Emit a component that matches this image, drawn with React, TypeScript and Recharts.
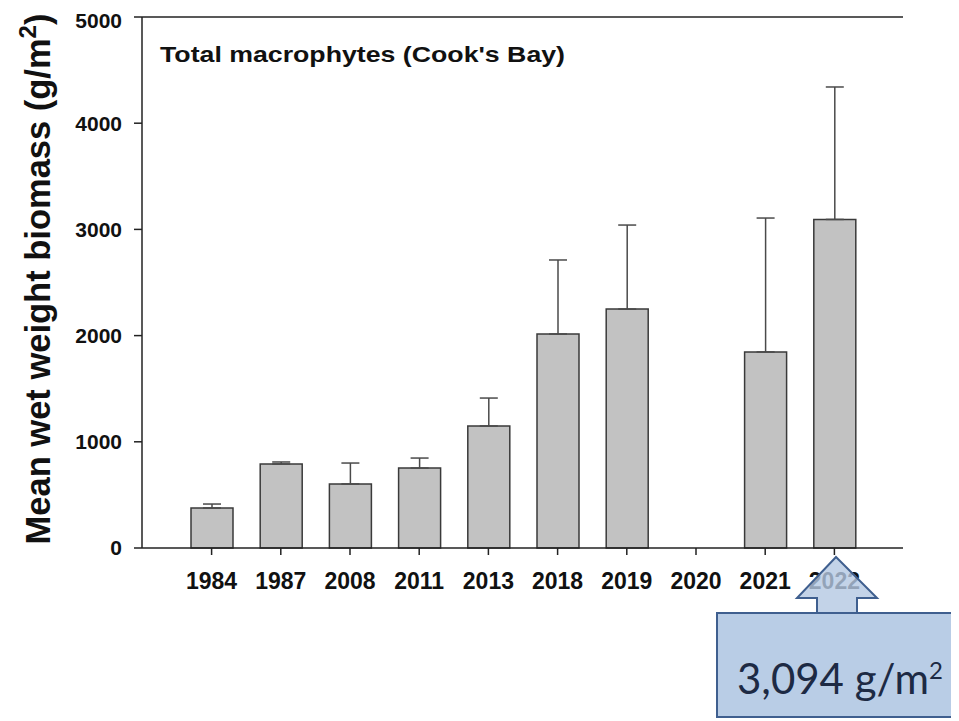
import React from "react";
import {
  BarChart,
  Bar,
  XAxis,
  YAxis,
  ErrorBar,
  ReferenceLine,
} from "recharts";

// Cook's Bay survey years and mean wet weight biomass (g/m2)
const years = ["1984", "1987", "2008", "2011", "2013", "2018", "2019", "2020", "2021", "2022"];
const biomass: (number | null)[] = [377, 791, 603, 753, 1149, 2015, 2250, null, 1846, 3094];
const errorUpper: (number | null)[] = [37, 19, 197, 94, 263, 697, 791, null, 1261, 1247];
const yTicks = [0, 1000, 2000, 3000, 4000, 5000];

const data = years.map((year, i) => ({
  year,
  biomass: biomass[i],
  err: errorUpper[i] == null ? undefined : [0, errorUpper[i] as number],
}));

const highlight = data[data.length - 1];
const highlightText = (highlight.biomass as number).toLocaleString("en-US");

const FONT = "'Liberation Sans', Arial, Helvetica, sans-serif";

const YLabel = () => (
  <text
    transform="translate(42,271) rotate(-90)"
    textAnchor="middle"
    fontFamily={FONT}
    fontWeight="bold"
    fontSize={34.5}
    fill="#111"
  >
    Mean wet weight biomass (g/m
    <tspan dy={-14} fontSize={24}>2</tspan>
    <tspan dy={14}>)</tspan>
  </text>
);

export default function App() {
  return (
    <div style={{ position: "relative", width: 951, height: 713 }}>
      <BarChart
        width={951}
        height={713}
        data={data}
        margin={{ top: 9, right: 56, bottom: 123, left: 0 }}
        barSize={42}
      >
        <XAxis
          dataKey="year"
          padding={{ left: 35, right: 34 }}
          axisLine={{ stroke: "#222", strokeWidth: 1.5 }}
          tickLine={{ stroke: "#222", strokeWidth: 1.5 }}
          tickSize={7}
          tickMargin={18}
          height={50}
          interval={0}
          tick={{ fontFamily: FONT, fontWeight: "bold", fontSize: 23, fill: "#111" }}
        />
        <YAxis
          domain={[0, 5000]}
          ticks={yTicks}
          width={134}
          axisLine={{ stroke: "#222", strokeWidth: 1.5 }}
          tickLine={{ stroke: "#222", strokeWidth: 1.5 }}
          tickSize={8}
          tickMargin={12}
          tick={{ fontFamily: FONT, fontWeight: "bold", fontSize: 21, fill: "#111" }}
          label={<YLabel />}
        />
        <YAxis
          yAxisId="frame"
          orientation="right"
          domain={[0, 5000]}
          width={0}
          tick={false}
          tickLine={false}
          axisLine={{ stroke: "#222", strokeWidth: 1.5 }}
        />
        <ReferenceLine y={5000} stroke="#222" strokeWidth={1.5} ifOverflow="visible" />
        <Bar
          dataKey="biomass"
          fill="#c2c2c2"
          stroke="#3a3a3a"
          strokeWidth={1.5}
          isAnimationActive={false}
        >
          <ErrorBar
            dataKey="err"
            direction="y"
            width={9}
            stroke="#4a4a4a"
            strokeWidth={1.5}
            isAnimationActive={false}
          />
        </Bar>
      </BarChart>

      <svg
        width={959}
        height={721}
        style={{ position: "absolute", left: -8, top: -8, pointerEvents: "none" }}
      >
        <text
          x={160}
          y={62}
          textLength={405}
          lengthAdjust="spacingAndGlyphs"
          fontFamily={FONT}
          fontWeight="bold"
          fontSize={22}
          fill="#111"
        >
          Total macrophytes (Cook's Bay)
        </text>

        {/* callout for the latest survey year */}
        <polygon
          points="836,557 877,598 857,598 857,614 817,614 817,598 797,598"
          fill="#b4c8e2"
          fillOpacity={0.8}
          stroke="#3f5f8f"
          strokeWidth={2}
        />
        <rect
          x={717}
          y={613}
          width={240}
          height={104}
          fill="#b9cde6"
          stroke="#3f5f8f"
          strokeWidth={2}
        />
        <text x={737} y={694} fontFamily="Lato, 'Open Sans', sans-serif" fontSize={42} fill="#1d2a44">
          {highlightText} g/m
          <tspan dy={-15} fontSize={24}>2</tspan>
        </text>
      </svg>
    </div>
  );
}
